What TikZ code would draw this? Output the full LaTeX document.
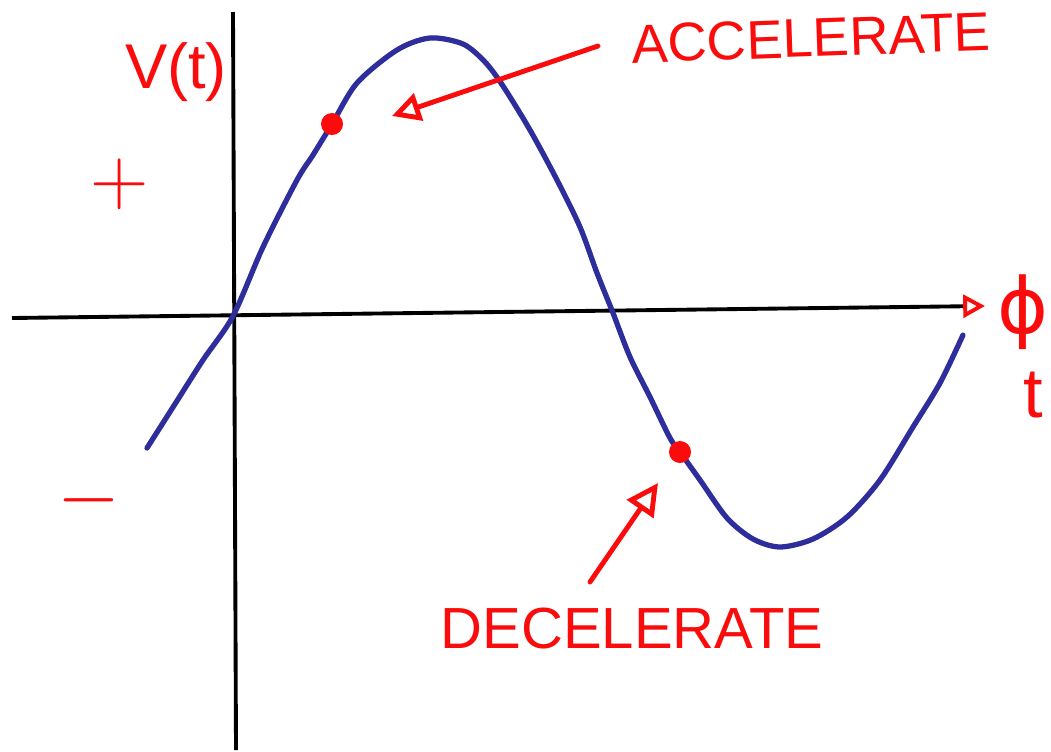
\RequirePackage{fix-cm}
\documentclass[tikz,border=0pt]{standalone}
\usepackage{fontspec}
\setmainfont{Liberation Sans}
\newfontfamily\symfont{DejaVu Sans}
\usetikzlibrary{arrows.meta}

\definecolor{penblue}{RGB}{45,45,155}
\definecolor{penred}{RGB}{250,12,12}

\begin{document}
\begin{tikzpicture}[x=0.01cm, y=-0.01cm,
		>={Triangle[open,length=8pt,width=8pt]},
		axis/.style={line width=1.1pt, black},
		wave/.style={line width=1.5pt, penblue, line cap=round, line join=round},
		pointer/.style={->, line width=1.4pt, penred, line cap=round},
		dot/.style={circle, fill=penred, inner sep=0pt, minimum size=0.22cm},
		lbl/.style={text=penred, inner sep=0pt}]
	
	\useasboundingbox (0,0) rectangle (1051,751);
	
	% --- TRỤC TỌA ĐỘ ---
	\coordinate (xL) at (12,318);
	\coordinate (xR) at (985,306);
	\coordinate (yT) at (233,12);
	\coordinate (yB) at (236,750);
	\draw[axis] (yT) -- (yB);
	\draw[axis, -{Triangle[open,color=penred,length=6.2pt,width=6.5pt,line width=1.1pt]}] (xL) -- (xR);
	
	% --- ĐƯỜNG SIN ---
	\draw[wave] plot[smooth] coordinates {(147,448) (175,404) (203,360) (233,316)
		(263,247) (297,180) (313,155) (332,124) (357,83) (397,50) (430,38)
		(463,44) (485,62) (503,86) (530,130) (557,180) (580,227) (597,273)
		(613,313) (630,357) (650,397) (670,438) (680,452) (700,480) (727,518)
		(753,539) (780,547) (813,539) (847,517) (880,480) (913,427) (940,383)
		(963,335)};
	
	% --- ĐIỂM ---
	\node[dot] (ptAcc) at (332,124) {};
	\node[dot] (ptDec) at (680,452) {};
	
	% --- NHÃN ---
	\node[lbl, font=\fontsize{18}{20}\selectfont] (vlab) at (176,72) {V(t)};
	\node[lbl, font=\fontsize{23}{25}\selectfont] (plus) at (120,184) {$+$};
	\node[lbl, font=\fontsize{23}{25}\selectfont] (minus) at (89,500) {$-$};
	\node[lbl, font=\symfont\fontsize{22}{24}\selectfont] (phi) at (1023,312) {ϕ};
	\node[lbl, font=\fontsize{20}{22}\selectfont] (tlab) at (1033,395) {t};
	\node[lbl, font=\fontsize{15.5}{18}\selectfont, rotate=2] (acc) at (811,38) {ACCELERATE};
	\node[lbl, font=\fontsize{16.5}{19}\selectfont] (dec) at (632,629) {DECELERATE};
	
	% --- MŨI TÊN ---
	\coordinate (accTail) at (598,46);
	\coordinate (accTip) at (392,116);
	\coordinate (decTail) at (590,582);
	\coordinate (decTip) at (658,483);
	\draw[pointer] (accTail) -- (accTip);
	\draw[pointer, >={Triangle[open,length=9pt,width=9pt]}] (decTail) -- (decTip);
	
\end{tikzpicture}
\end{document}
